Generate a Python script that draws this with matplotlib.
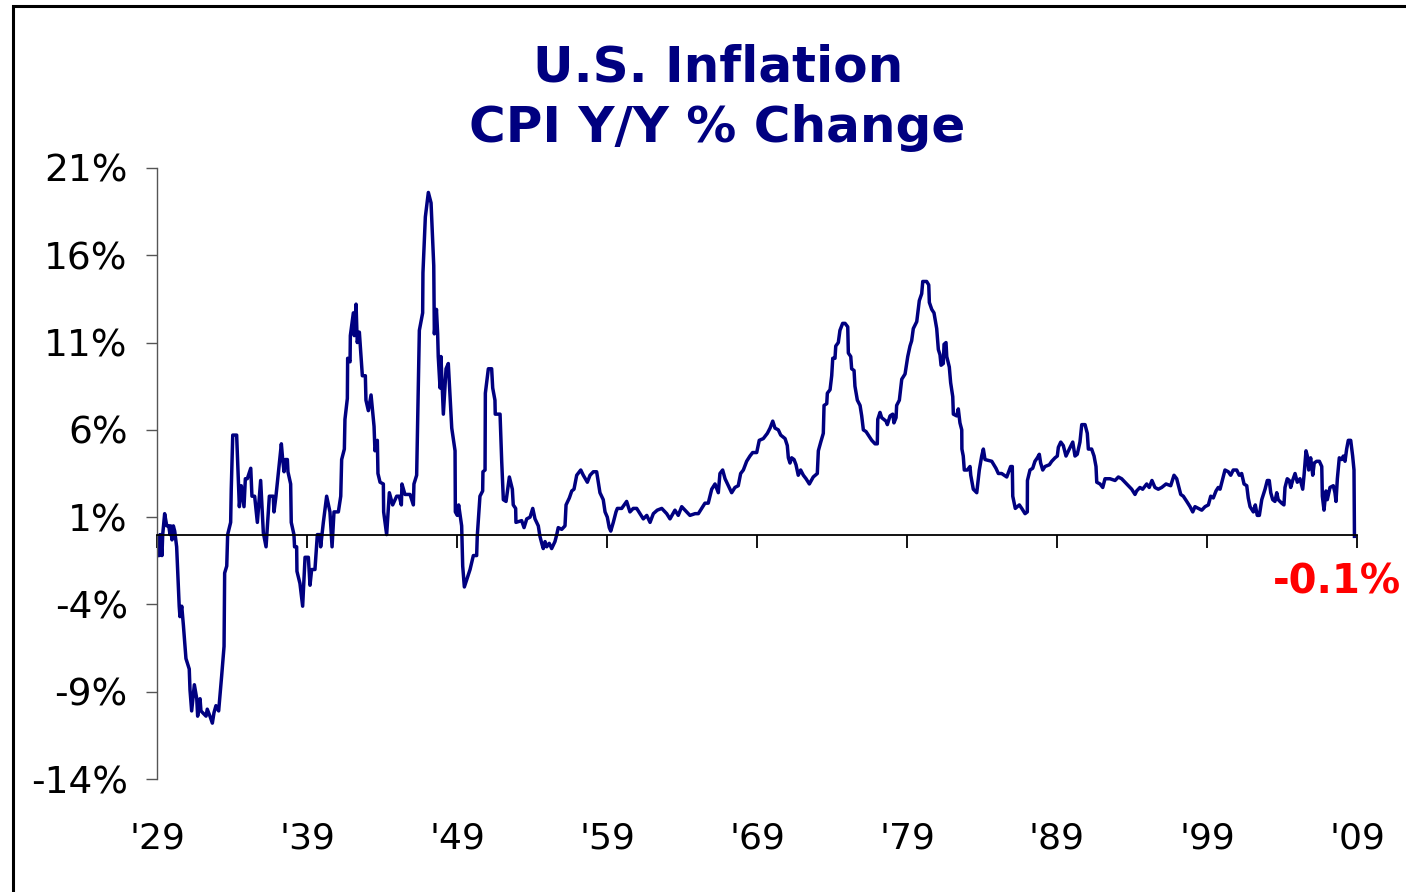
import matplotlib
matplotlib.use("Agg")
import matplotlib.pyplot as plt
from matplotlib.patches import Rectangle

# CPI year-over-year % change (decimal year, percent)
years = [
    1929.00, 1929.02, 1929.15, 1929.20, 1929.33, 1929.38, 1929.51, 1929.65, 1929.78, 1929.87,
    1929.91, 1930.00, 1930.09, 1930.18, 1930.27, 1930.31, 1930.48, 1930.53, 1930.65, 1930.76,
    1930.87, 1930.93, 1931.15, 1931.20, 1931.31, 1931.49, 1931.65, 1931.71, 1931.87, 1931.93,
    1932.27, 1932.35, 1932.53, 1932.69, 1932.80, 1932.93, 1933.11, 1933.31, 1933.47, 1933.51,
    1933.65, 1933.71, 1933.91, 1933.95, 1934.05, 1934.31, 1934.49, 1934.62, 1934.80, 1934.89,
    1935.02, 1935.25, 1935.33, 1935.51, 1935.69, 1935.91, 1936.09, 1936.27, 1936.49, 1936.75,
    1936.80, 1936.93, 1937.11, 1937.29, 1937.38, 1937.47, 1937.55, 1937.69, 1937.73, 1937.91,
    1937.95, 1938.13, 1938.17, 1938.31, 1938.33, 1938.53, 1938.71, 1938.87, 1939.09, 1939.20,
    1939.31, 1939.53, 1939.69, 1939.87, 1939.91,
    1940.09, 1940.31, 1940.53, 1940.67, 1940.80, 1940.93, 1941.09, 1941.25, 1941.31, 1941.49,
    1941.53, 1941.69, 1941.71, 1941.87, 1941.89, 1942.09, 1942.15, 1942.27, 1942.35, 1942.49,
    1942.69, 1942.89, 1942.93, 1943.09, 1943.27, 1943.47, 1943.53, 1943.69, 1943.73, 1943.87,
    1944.09, 1944.11, 1944.31, 1944.49, 1944.71, 1944.98, 1945.15, 1945.29, 1945.33, 1945.53,
    1945.87, 1946.09, 1946.13, 1946.31, 1946.49, 1946.71, 1946.73, 1946.89, 1947.09, 1947.27,
    1947.45, 1947.49, 1947.63, 1947.71, 1947.75, 1947.87, 1947.93, 1948.09, 1948.27, 1948.42,
    1948.65, 1948.87, 1948.89, 1949.02, 1949.11, 1949.31, 1949.38, 1949.49, 1949.87,
    1950.09, 1950.31, 1950.35, 1950.53, 1950.71, 1950.73, 1950.87, 1950.89, 1951.09, 1951.31,
    1951.38, 1951.53, 1951.55, 1951.87, 1951.98, 1952.09, 1952.27, 1952.49, 1952.69, 1952.75,
    1952.91, 1952.93, 1953.31, 1953.47, 1953.65, 1953.87, 1954.05, 1954.20, 1954.42, 1954.53,
    1954.65, 1954.75, 1954.87, 1954.98, 1955.15, 1955.31, 1955.53, 1955.65, 1955.75, 1955.98,
    1956.20, 1956.27, 1956.49, 1956.65, 1956.80, 1956.98, 1957.25, 1957.42, 1957.69, 1957.87,
    1958.09, 1958.31, 1958.53, 1958.75, 1958.87, 1959.02, 1959.15, 1959.25, 1959.42, 1959.60,
    1959.69, 1959.98,
    1960.31, 1960.53, 1960.75, 1960.98, 1961.20, 1961.42, 1961.65, 1961.87, 1962.09, 1962.35,
    1962.65, 1962.98, 1963.20, 1963.53, 1963.75, 1963.98, 1964.20, 1964.53, 1964.87, 1965.09,
    1965.31, 1965.53, 1965.75, 1965.98, 1966.20, 1966.42, 1966.53, 1966.71, 1966.87, 1967.09,
    1967.31, 1967.53, 1967.75, 1967.91, 1968.09, 1968.31, 1968.53, 1968.71, 1968.98, 1969.15,
    1969.42, 1969.69, 1969.87,
    1970.05, 1970.20, 1970.42, 1970.58, 1970.87, 1971.02, 1971.09, 1971.20, 1971.31, 1971.47,
    1971.60, 1971.75, 1971.91, 1972.09, 1972.27, 1972.49, 1972.75, 1973.02, 1973.09, 1973.25,
    1973.42, 1973.47, 1973.65, 1973.69, 1973.87, 1973.98, 1974.05, 1974.20, 1974.25, 1974.42,
    1974.53, 1974.71, 1974.87, 1975.05, 1975.09, 1975.25, 1975.31, 1975.47, 1975.53, 1975.69,
    1975.87, 1975.98, 1976.09, 1976.27, 1976.42, 1976.65, 1976.87, 1977.02, 1977.05, 1977.20,
    1977.31, 1977.60, 1977.69, 1977.87, 1978.05, 1978.13, 1978.27, 1978.31, 1978.49, 1978.65,
    1978.87, 1979.05, 1979.20, 1979.31, 1979.42, 1979.65, 1979.82, 1979.98,
    1980.05, 1980.31, 1980.45, 1980.49, 1980.65, 1980.80, 1980.98, 1981.09, 1981.20, 1981.27,
    1981.42, 1981.47, 1981.60, 1981.65, 1981.82, 1981.91, 1982.05, 1982.09, 1982.31, 1982.42,
    1982.53, 1982.65, 1982.66, 1982.75, 1982.82, 1983.02, 1983.20, 1983.25, 1983.42, 1983.65,
    1983.82, 1983.98, 1984.09, 1984.20, 1984.65, 1984.93, 1985.09, 1985.31, 1985.65, 1985.91,
    1986.02, 1986.05, 1986.22, 1986.49, 1986.65, 1986.87, 1987.02, 1987.03, 1987.20, 1987.38,
    1987.53, 1987.69, 1987.82, 1987.91, 1988.05, 1988.20, 1988.49, 1988.65, 1988.87, 1989.02,
    1989.09, 1989.25, 1989.42, 1989.60, 1989.82,
    1990.05, 1990.20, 1990.35, 1990.53, 1990.65, 1990.87, 1991.02, 1991.09, 1991.31, 1991.47,
    1991.60, 1991.65, 1991.87, 1992.05, 1992.20, 1992.53, 1992.87, 1993.09, 1993.31, 1993.53,
    1993.75, 1993.98, 1994.20, 1994.31, 1994.53, 1994.71, 1994.98, 1995.15, 1995.33, 1995.53,
    1995.75, 1995.98, 1996.27, 1996.58, 1996.80, 1996.98, 1997.25, 1997.42, 1997.65, 1997.87,
    1998.05, 1998.20, 1998.42, 1998.65, 1998.87, 1999.09, 1999.25, 1999.42, 1999.60, 1999.75,
    1999.87,
    2000.05, 2000.20, 2000.42, 2000.58, 2000.75, 2000.98, 2001.15, 2001.31, 2001.47, 2001.65,
    2001.75, 2001.87, 2002.09, 2002.22, 2002.35, 2002.49, 2002.65, 2002.87, 2003.02, 2003.15,
    2003.25, 2003.38, 2003.53, 2003.65, 2003.75, 2003.98, 2004.13, 2004.20, 2004.35, 2004.49,
    2004.58, 2004.71, 2004.87, 2005.02, 2005.20, 2005.38, 2005.47, 2005.60, 2005.69, 2005.78,
    2005.91, 2006.05, 2006.15, 2006.31, 2006.49, 2006.65, 2006.69, 2006.80, 2006.93, 2007.02,
    2007.20, 2007.42, 2007.53, 2007.60, 2007.69, 2007.82, 2007.98, 2008.09, 2008.20, 2008.31,
    2008.42, 2008.58, 2008.71, 2008.80, 2008.83,
]
cpi_yoy = [
    -1.2, -0.1, -1.2, 0.0, -1.2, 0.0, 1.2, 0.5, 0.5, 0.0,
    0.5, -0.3, 0.5, 0.2, -0.4, -0.7, -4.1, -4.7, -4.1, -5.2,
    -6.4, -7.1, -7.7, -8.9, -10.1, -8.6, -9.4, -10.4, -9.4, -10.1,
    -10.4, -10.0, -10.4, -10.8, -10.2, -9.8, -10.1, -8.1, -6.4, -2.2,
    -1.8, 0.0, 0.7, 2.6, 5.7, 5.7, 1.6, 2.8, 1.6, 3.2,
    3.2, 3.8, 2.2, 2.2, 0.7, 3.1, 0.1, -0.7, 2.2, 2.2,
    1.3, 2.2, 3.7, 5.2, 4.3, 3.6, 4.3, 4.3, 3.6, 2.9,
    0.7, 0.0, -0.7, -0.7, -2.1, -2.8, -4.1, -1.3, -1.3, -2.9,
    -2.0, -2.0, 0.0, 0.0, -0.7,
    0.7, 2.2, 1.3, -0.7, 1.3, 1.3, 1.3, 2.2, 4.3, 4.9,
    6.6, 7.8, 10.1, 9.9, 11.4, 12.7, 11.4, 13.2, 11.0, 11.6,
    9.1, 9.1, 7.7, 7.1, 8.0, 6.2, 4.8, 5.4, 3.5, 3.0,
    2.9, 1.3, 0.0, 2.4, 1.7, 2.2, 2.2, 1.7, 2.9, 2.3,
    2.3, 1.7, 2.9, 3.4, 11.7, 12.7, 15.0, 18.2, 19.6, 19.0,
    15.4, 11.5, 12.9, 11.5, 10.2, 8.4, 10.2, 6.9, 9.5, 9.8,
    6.1, 4.8, 1.3, 1.1, 1.7, 0.5, -1.8, -3.0, -2.0,
    -1.2, -1.2, -0.1, 2.2, 2.5, 3.6, 3.7, 8.1, 9.5, 9.5,
    8.4, 7.7, 6.9, 6.9, 4.2, 2.0, 1.9, 3.3, 2.6, 1.7,
    1.5, 0.7, 0.8, 0.4, 0.9, 1.0, 1.5, 0.9, 0.5, -0.1,
    -0.5, -0.8, -0.4, -0.7, -0.5, -0.8, -0.4, 0.0, 0.4, 0.3,
    0.5, 1.7, 2.1, 2.5, 2.6, 3.4, 3.7, 3.4, 3.0, 3.4,
    3.6, 3.6, 2.4, 2.0, 1.3, 1.0, 0.4, 0.2, 0.7, 1.3,
    1.5, 1.5,
    1.9, 1.3, 1.5, 1.5, 1.2, 0.9, 1.1, 0.7, 1.2, 1.4,
    1.5, 1.2, 0.9, 1.4, 1.1, 1.6, 1.4, 1.1, 1.2, 1.2,
    1.5, 1.8, 1.8, 2.6, 2.9, 2.4, 3.5, 3.7, 3.2, 2.8,
    2.4, 2.7, 2.8, 3.5, 3.7, 4.2, 4.5, 4.7, 4.7, 5.4,
    5.5, 5.8, 6.1,
    6.5, 6.1, 6.0, 5.7, 5.5, 5.1, 4.4, 4.1, 4.4, 4.3,
    4.0, 3.4, 3.7, 3.4, 3.2, 2.9, 3.3, 3.5, 4.8, 5.3,
    5.8, 7.4, 7.5, 8.1, 8.3, 9.1, 10.1, 10.1, 10.8, 11.0,
    11.7, 12.1, 12.1, 11.9, 10.4, 10.2, 9.5, 9.4, 8.5, 7.7,
    7.4, 6.8, 6.0, 5.9, 5.7, 5.4, 5.2, 5.2, 6.6, 7.0,
    6.7, 6.5, 6.3, 6.8, 6.9, 6.4, 6.7, 7.4, 7.7, 8.9,
    9.2, 10.2, 10.8, 11.1, 11.8, 12.2, 13.4, 13.8,
    14.5, 14.5, 14.3, 13.3, 12.9, 12.7, 11.8, 10.6, 10.3, 9.7,
    9.8, 10.9, 11.0, 10.2, 9.6, 8.7, 7.9, 6.9, 6.8, 7.2,
    6.4, 6.0, 4.9, 4.5, 3.7, 3.7, 3.9, 3.4, 2.6, 2.4,
    3.7, 4.5, 4.9, 4.3, 4.2, 3.8, 3.5, 3.5, 3.3, 3.9,
    3.9, 2.2, 1.5, 1.7, 1.5, 1.2, 1.3, 3.1, 3.7, 3.8,
    4.2, 4.4, 4.6, 4.1, 3.7, 3.9, 4.0, 4.2, 4.4, 4.5,
    5.0, 5.3, 5.1, 4.5, 4.9,
    5.3, 4.5, 4.6, 5.3, 6.3, 6.3, 5.8, 4.9, 4.9, 4.5,
    3.9, 3.0, 2.9, 2.7, 3.2, 3.2, 3.1, 3.3, 3.2, 3.0,
    2.8, 2.6, 2.3, 2.5, 2.7, 2.6, 2.9, 2.7, 3.1, 2.7,
    2.6, 2.7, 2.9, 2.8, 3.4, 3.2, 2.3, 2.2, 1.9, 1.6,
    1.3, 1.6, 1.5, 1.4, 1.6, 1.7, 2.2, 2.1, 2.5, 2.7,
    2.6,
    3.2, 3.7, 3.6, 3.4, 3.7, 3.7, 3.4, 3.5, 2.9, 2.8,
    2.1, 1.6, 1.3, 1.7, 1.1, 1.1, 2.0, 2.6, 3.1, 3.1,
    2.4, 2.0, 1.9, 2.4, 2.0, 1.8, 1.7, 2.7, 3.2, 3.1,
    2.7, 3.1, 3.5, 3.0, 3.2, 2.6, 3.4, 4.8, 4.5, 3.7,
    4.4, 3.4, 4.1, 4.2, 4.2, 3.9, 2.2, 1.4, 2.5, 2.0,
    2.7, 2.8, 2.4, 1.9, 3.2, 4.4, 4.3, 4.5, 4.2, 4.9,
    5.4, 5.4, 4.5, 3.7, -0.1,
]

y_ticks = [-14, -9, -4, 1, 6, 11, 16, 21]
x_ticks = [1929, 1939, 1949, 1959, 1969, 1979, 1989, 1999, 2009]
x_labels = ["'29", "'39", "'49", "'59", "'69", "'79", "'89", "'99", "'09"]
latest_label = "-0.1%"

navy = "#000080"

fig = plt.figure(figsize=(14.06, 8.92), dpi=100)
ax = fig.add_axes([157 / 1406, 1 - 779 / 892, 1200 / 1406, 611 / 892])

ax.plot(years, cpi_yoy, color=navy, lw=2.5, solid_joinstyle="round")

ax.set_xlim(1929, 2009)
ax.set_ylim(-14, 21)

ax.spines["top"].set_visible(False)
ax.spines["right"].set_visible(False)
ax.spines["bottom"].set_position(("data", 0))
ax.spines["bottom"].set_color("black")
ax.spines["bottom"].set_linewidth(1.3)
ax.spines["left"].set_color("#555555")
ax.spines["left"].set_linewidth(1.0)

ax.set_yticks(y_ticks)
ax.set_yticklabels([f"{v}%" for v in y_ticks])
ax.tick_params(axis="y", direction="out", length=8, width=1.0, color="#555555",
               pad=13, labelsize=27)

ax.set_xticks(x_ticks)
ax.tick_params(axis="x", direction="out", length=9, width=1.3, color="black",
               labelbottom=False)
for yr, lab in zip(x_ticks, x_labels):
    ax.text(yr, -0.098, lab, transform=ax.get_xaxis_transform(),
            ha="center", va="center", fontsize=26)

fig.text(718 / 1406, 1 - 68 / 892, "U.S. Inflation", ha="center", va="center",
         fontsize=36, fontweight="bold", color=navy)
fig.text(717 / 1406, 1 - 128 / 892, "CPI Y/Y % Change", ha="center", va="center",
         fontsize=36, fontweight="bold", color=navy)

fig.text(1337 / 1406, 1 - 582 / 892, latest_label, ha="center", va="center",
         fontsize=29, fontweight="bold", color="#ff0000")

# outer frame: only left and top edges fall inside the picture
top = 1 - 5.5 / 892
frame = Rectangle((12.5 / 1406, -0.2), 1.2, top + 0.2,
                  transform=fig.transFigure, fill=False, edgecolor="black",
                  lw=2.2, clip_on=False)
fig.add_artist(frame)

assert len(years) == len(cpi_yoy)
fig.savefig("out.png", dpi=100)
